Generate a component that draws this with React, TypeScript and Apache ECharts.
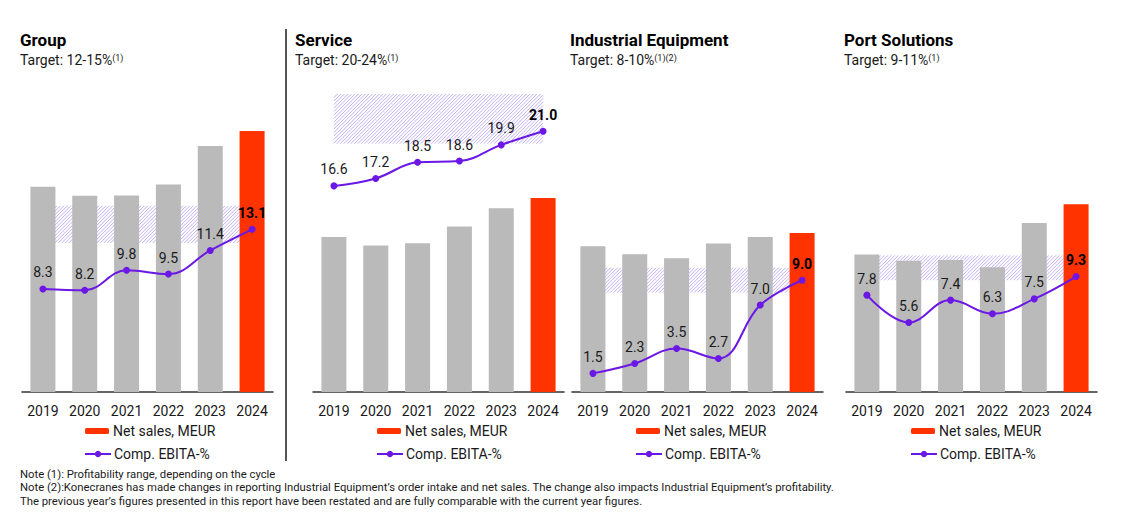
import React, { useEffect, useRef } from "react";
import * as echarts from "echarts";

const years = ["2019", "2020", "2021", "2022", "2023", "2024"];
const panelTitles = ["Group", "Service", "Industrial Equipment", "Port Solutions"];
const targetTexts = ["Target: 12-15%", "Target: 20-24%", "Target: 8-10%", "Target: 9-11%"];
const targetRefs = ["(1)", "(1)", "(1)(2)", "(1)"];

const groupSales = [3327, 3180, 3186, 3364, 3986, 4230];
const serviceSales = [1248, 1179, 1198, 1332, 1479, 1562];
const industrialSales = [1320, 1248, 1211, 1345, 1404, 1441];
const portSales = [1245, 1190, 1196, 1130, 1531, 1701];

const groupEbita = [8.3, 8.2, 9.8, 9.5, 11.4, 13.1];
const serviceEbita = [16.6, 17.2, 18.5, 18.6, 19.9, 21.0];
const industrialEbita = [1.5, 2.3, 3.5, 2.7, 7.0, 9.0];
const portEbita = [7.8, 5.6, 7.4, 6.3, 7.5, 9.3];

const targetLow = [12, 20, 8, 9];
const targetHigh = [15, 24, 10, 11];

const notes = [
  "Note (1): Profitability range, depending on the cycle",
  "Note (2):Konecranes has made changes in reporting Industrial Equipment\u2019s order intake and net sales. The change also impacts Industrial Equipment\u2019s profitability.",
  "The previous year\u2019s figures presented in this report have been restated and are fully comparable with the current year figures.",
];

const salesSets = [groupSales, serviceSales, industrialSales, portSales];
const ebitaSets = [groupEbita, serviceEbita, industrialEbita, portEbita];

const FONT = "Roboto";
const GREY = "#bababa";
const RED = "#ff3300";
const PURPLE = "#6b17e6";
const HATCH = "#ae9af3";

const gridLefts = [22, 313, 572, 846];
const titleLefts = [20, 295, 570, 844];
const legendLefts = [85, 377, 636, 911];
const barMax = [4830, 2400, 2700, 2700];
const GRID_TOP = 94;
const GRID_H = 298;
const GRID_W = 251;

export default function App() {
  const ref = useRef<HTMLDivElement>(null);
  useEffect(() => {
    if (!ref.current) return;
    const chart = echarts.init(ref.current, null, { renderer: "svg" });

    const grids: any[] = [];
    const xAxes: any[] = [];
    const yAxes: any[] = [];
    const series: any[] = [];
    const titles: any[] = [];
    const legends: any[] = [];

    for (let i = 0; i < 4; i++) {
      grids.push({ left: gridLefts[i], top: GRID_TOP, width: GRID_W, height: GRID_H });
      xAxes.push({
        type: "category",
        gridIndex: i,
        data: years,
        axisLine: { lineStyle: { color: "#333", width: 1.5 } },
        axisTick: { show: false },
        axisLabel: { color: "#1a1a1a", fontSize: 14, fontFamily: FONT, margin: 12 },
      });
      yAxes.push({ type: "value", gridIndex: i, min: 0, max: barMax[i], show: false, splitLine: { show: false } });
      yAxes.push({ type: "value", gridIndex: i, min: 0, max: 24, show: false, splitLine: { show: false } });

      series.push({
        type: "custom",
        xAxisIndex: i,
        yAxisIndex: 2 * i + 1,
        silent: true,
        z: 1,
        encode: { x: [0, 1], y: [2, 3] },
        data: [[0, years.length - 1, targetLow[i], targetHigh[i]]],
        renderItem: (params: any, api: any) => {
          const p0 = api.coord([api.value(0), api.value(3)]);
          const p1 = api.coord([api.value(1), api.value(2)]);
          const x0 = p0[0], y0 = p0[1], x1 = p1[0], y1 = p1[1];
          const children: any[] = [];
          const step = 3.5;
          for (let c = x0 + y0; c <= x1 + y1; c += step) {
            const xa = Math.max(x0, c - y1);
            const xb = Math.min(x1, c - y0);
            if (xb <= xa) continue;
            children.push({
              type: "line",
              shape: { x1: xa, y1: c - xa, x2: xb, y2: c - xb },
              style: { stroke: HATCH, lineWidth: 0.8 },
            });
          }
          return { type: "group", children };
        },
      });

      series.push({
        type: "bar",
        name: "Net sales, MEUR",
        xAxisIndex: i,
        yAxisIndex: 2 * i,
        barWidth: 25,
        z: 2,
        itemStyle: { color: RED },
        data: salesSets[i].map((v, k) =>
          k < years.length - 1 ? { value: v, itemStyle: { color: GREY } } : { value: v }
        ),
      });

      series.push({
        type: "line",
        name: "Comp. EBITA-%",
        xAxisIndex: i,
        yAxisIndex: 2 * i + 1,
        z: 3,
        smooth: 0.4,
        symbol: "circle",
        symbolSize: 7,
        lineStyle: { color: PURPLE, width: 2 },
        itemStyle: { color: PURPLE },
        label: {
          show: true,
          position: "top",
          distance: 6,
          fontSize: 14,
          fontFamily: FONT,
          color: "#1a1a1a",
          formatter: (p: any) => Number(p.value).toFixed(1),
        },
        data: ebitaSets[i].map((v, k) =>
          k < years.length - 1
            ? { value: v }
            : { value: v, label: { fontWeight: "bold", color: "#000" } }
        ),
      });

      titles.push({
        text: panelTitles[i],
        subtext: targetTexts[i] + "{sup|" + targetRefs[i] + "}",
        left: titleLefts[i],
        top: 31,
        itemGap: 5,
        padding: 0,
        textStyle: { fontFamily: FONT, fontSize: 17, fontWeight: "bold", color: "#000" },
        subtextStyle: {
          fontFamily: FONT,
          fontSize: 14,
          color: "#1a1a1a",
          rich: { sup: { fontSize: 9, verticalAlign: "top", color: "#1a1a1a", fontFamily: FONT } },
        },
      });

      legends.push({
        data: ["Net sales, MEUR"],
        left: legendLefts[i],
        top: 424,
        padding: 0,
        itemWidth: 24,
        itemHeight: 6,
        itemGap: 4,
        selectedMode: false,
        textStyle: { fontFamily: FONT, fontSize: 14, color: "#1a1a1a", padding: [0, 0, 0, -1] },
      });
      legends.push({
        data: ["Comp. EBITA-%"],
        left: legendLefts[i] - 1,
        top: 447,
        padding: 0,
        itemWidth: 26,
        itemHeight: 8,
        selectedMode: false,
        textStyle: { fontFamily: FONT, fontSize: 14, color: "#1a1a1a", padding: [0, 0, 0, -2] },
      });
    }

    const graphics: any[] = [
      {
        type: "line",
        shape: { x1: 286, y1: 29, x2: 286, y2: 461 },
        style: { stroke: "#555", lineWidth: 2 },
      },
    ];
    notes.forEach((t, k) => {
      graphics.push({
        type: "text",
        left: 20,
        top: 468.5 + k * 13.5,
        style: { text: t, fontFamily: FONT, fontSize: 11.3, fill: "#1a1a1a" },
      });
    });

    chart.setOption({
      animation: false,
      backgroundColor: "#fff",
      title: titles,
      legend: legends,
      grid: grids,
      xAxis: xAxes,
      yAxis: yAxes,
      series,
      graphic: graphics,
    });
    return () => chart.dispose();
  }, []);
  return (
    <div
      ref={ref}
      style={{ position: "fixed", left: 0, top: 0, width: 1137, height: 513, background: "#fff" }}
    />
  );
}
